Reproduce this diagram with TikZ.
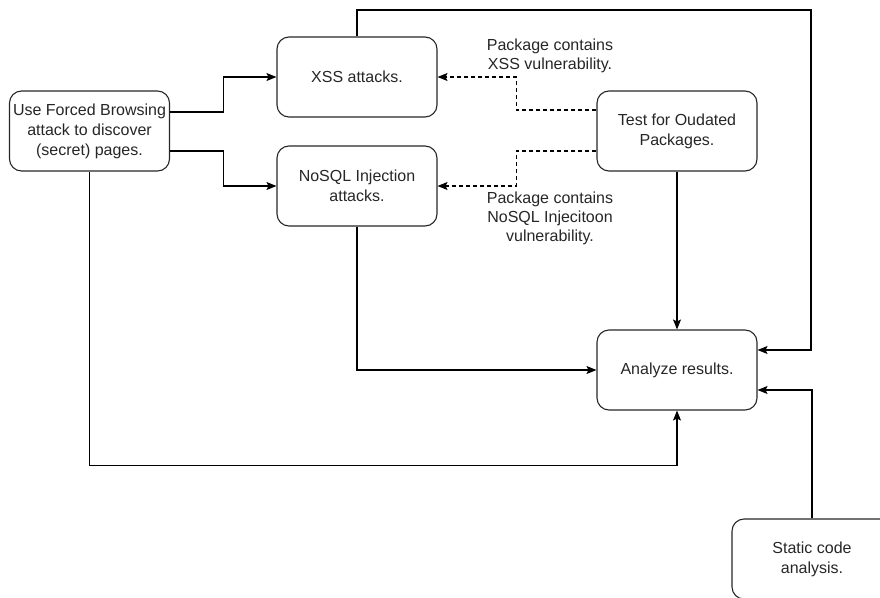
\documentclass[tikz,border=0pt]{standalone}
\usepackage{fontspec}
\setmainfont{Liberation Sans}
\usetikzlibrary{arrows.meta,calc}
\begin{document}
\begin{tikzpicture}[x=1pt,y=-1pt,
  box/.style={draw=black!85, line width=1.1pt, rounded corners=12pt, minimum width=160pt, minimum height=80pt, align=center, inner sep=0pt, font=\fontsize{16}{20}\selectfont, text=black!85},
  lbl/.style={align=center, inner sep=0pt, font=\fontsize{16}{19}\selectfont, text=black!85},
  conn/.style={line width=1.1pt, draw=black, -{Stealth[length=10pt,width=8pt,inset=2pt]}},
  dconn/.style={conn, dash pattern=on 4pt off 3pt}]
\useasboundingbox (0,0) rectangle (880,597);
\node[box] (forced) at (89.5,131) {Use Forced Browsing\\attack to discover\\(secret) pages.};
\node[box] (xss) at (357,77) {XSS attacks.};
\node[box] (nosql) at (357,186) {NoSQL Injection\\attacks.};
\node[box] (test) at (677,131) {Test for Oudated\\Packages.};
\node[box] (analyze) at (677,370) {Analyze results.};
\node[box] (static) at (812,559) {Static code\\analysis.};
\coordinate (tr) at (811,10);
\node[lbl] (l1) at (550,56) {Package contains\\XSS vulnerability.};
\node[lbl] (l2) at (550,218) {Package contains\\NoSQL Injecitoon\\vulnerability.};
\draw[conn] ([yshift=19pt]forced.east) -- ++(53,0) |- (xss.west);
\draw[conn] ([yshift=-20pt]forced.east) -- ++(53,0) |- (nosql.west);
\draw[conn] (forced.south) -- ++(0,294) -| (analyze.south);
\draw[conn] (xss.north) |- (tr) |- ([yshift=20pt]analyze.east);
\draw[conn] (static.north) |- ([yshift=-20pt]analyze.east);
\draw[conn] (nosql.south) |- (analyze.west);
\draw[conn] (test.south) -- (analyze.north);
\draw[dconn] ([yshift=21pt]test.west) -- ++(-80,0) |- (xss.east);
\draw[dconn] ([yshift=-20pt]test.west) -- ++(-80,0) |- (nosql.east);
\end{tikzpicture}
\end{document}
